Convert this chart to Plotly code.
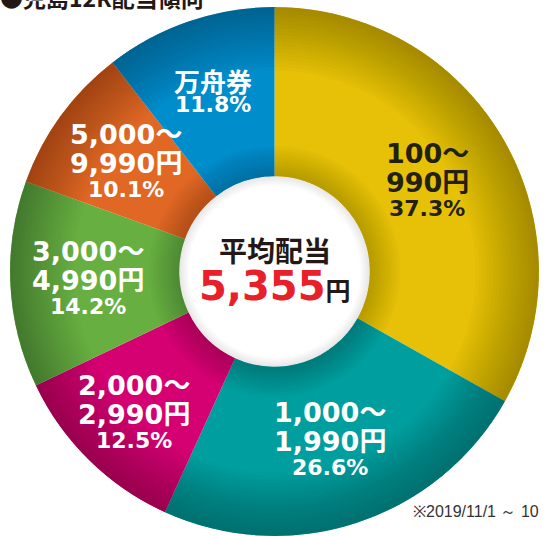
import math
import plotly.graph_objects as go

# ---------------- data ----------------
title_text = "●児島12R配当傾向"
range_line1 = ["100～", "1,000～", "2,000～", "3,000～", "5,000～", "万舟券"]
range_line2 = ["990円", "1,990円", "2,990円", "4,990円", "9,990円", ""]
shares = [37.3, 26.6, 12.5, 14.2, 10.1, 11.8]
categories = ["100～990円", "1,000～1,990円", "2,000～2,990円",
              "3,000～4,990円", "5,000～9,990円", "万舟券"]
avg_label = "平均配当"
avg_value = "5,355"
avg_unit = "円"
note_text = "※2019/11/1 ～ 10"

# ---------------- style ----------------
slice_colors = ["#E6C108", "#009E9E", "#D50071", "#67AF40", "#E16724", "#008DCB"]
text_colors = ["#231F12", "#FFFFFF", "#FFFFFF", "#FFFFFF", "#FFFFFF", "#FFFFFF"]
label_radius_px = [177, 179, 201, 187, 184, 190]

W, H = 545, 536
CX, CY, R = 274.5, 271.5, 264.5
HOLE = 0.36

NUM_FONT = "DejaVu Sans, Noto Sans CJK JP, sans-serif"
CJK_FONT = "Noto Sans CJK JP, DejaVu Sans, sans-serif"


def px2x(px):
    return px / W


def py2y(py):
    return (H - py) / H


def dom(r):
    return dict(x=[px2x(CX - r), px2x(CX + r)], y=[py2y(CY + r), py2y(CY - r)])


fig = go.Figure()
fig.add_trace(go.Pie(
    values=shares, labels=categories, sort=False, direction="clockwise",
    rotation=0, hole=HOLE,
    marker=dict(colors=slice_colors, line=dict(width=0)),
    textinfo="none", hoverinfo="label+percent", showlegend=False,
    domain=dom(R),
))


def ring(r_out, r_in, color):
    fig.add_trace(go.Pie(
        values=[1], labels=[""], sort=False, hole=r_in / r_out,
        marker=dict(colors=[color], line=dict(width=0)),
        textinfo="none", hoverinfo="skip", showlegend=False,
        domain=dom(r_out),
    ))


# outer rim darkening (smooth radial gradient from stacked rings)
N_OUT = 18
for k in range(N_OUT):
    ring(R, R * (0.76 + 0.24 * k / N_OUT), "rgba(0,0,0,0.017)")
# darkening near the hole
rh = R * HOLE
N_IN = 12
for k in range(N_IN):
    ring(rh + 3 + 2.5 * k, rh, "rgba(0,0,0,0.016)")
# soft shadow inside the hole
for k in range(8):
    ring(rh, rh * (0.90 + 0.0125 * k), "rgba(0,0,0,0.012)")

annotations = []
total = sum(shares)
cum = 0.0
for i, v in enumerate(shares):
    mid = (cum + v / 2) / total * 2 * math.pi
    cum += v
    ax = CX + label_radius_px[i] * math.sin(mid)
    ay = CY - label_radius_px[i] * math.cos(mid)
    col = text_colors[i]
    pct = f"{v:.1f}%"
    if range_line2[i]:
        lines = [(range_line1[i], -29, 27, NUM_FONT),
                 (range_line2[i], 0, 27, NUM_FONT),
                 (pct, 26, 22, NUM_FONT)]
    else:
        lines = [(range_line1[i], -11.5, 26, CJK_FONT),
                 (pct, 13, 22, NUM_FONT)]
    for txt, dy, size, fam in lines:
        annotations.append(dict(
            text=txt, x=px2x(ax), y=py2y(ay + dy), xref="paper", yref="paper",
            xanchor="center", yanchor="middle", showarrow=False,
            font=dict(family=fam, size=size, color=col, weight="bold"),
        ))

# centre text
annotations.append(dict(
    text=avg_label, x=px2x(275), y=py2y(250), xref="paper", yref="paper",
    xanchor="center", yanchor="middle", showarrow=False,
    font=dict(family=CJK_FONT, size=28, color="#231815", weight="bold"),
))
annotations.append(dict(
    text=(f"<span style='color:#E8202A;font-size:40px'>{avg_value}</span>"
          f"<span style='font-family:Noto Sans CJK JP;font-size:25px'>{avg_unit}</span>"),
    x=px2x(275), y=py2y(286), xref="paper", yref="paper",
    xanchor="center", yanchor="middle", showarrow=False,
    font=dict(family=NUM_FONT, size=40, color="#231815", weight="bold"),
))
# title (cut off at the top, as in the reference)
annotations.append(dict(
    text=title_text, x=px2x(-2), y=py2y(-3), xref="paper", yref="paper",
    xanchor="left", yanchor="middle", showarrow=False,
    font=dict(family=CJK_FONT, size=23, color="#231815", weight="bold"),
))
# footnote
annotations.append(dict(
    text=note_text, x=px2x(411), y=py2y(511), xref="paper", yref="paper",
    xanchor="left", yanchor="middle", showarrow=False,
    font=dict(family="Liberation Sans, Arial, sans-serif", size=16, color="#333333"),
))

fig.update_layout(
    width=W, height=H, margin=dict(l=0, r=0, t=0, b=0),
    paper_bgcolor="white", plot_bgcolor="white",
    showlegend=False, annotations=annotations,
)

fig.write_html(
    "out.html",
    config={"displayModeBar": False},
    post_script="document.body.style.margin='0';document.body.style.overflow='hidden';",
)
